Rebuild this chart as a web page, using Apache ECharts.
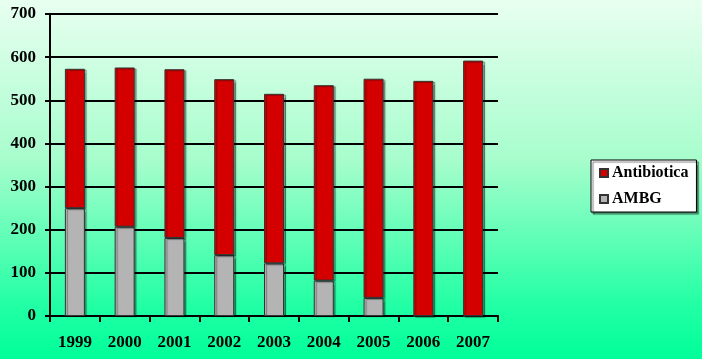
<!DOCTYPE html>
<html><head><meta charset="utf-8">
<script src="https://cdn.jsdelivr.net/npm/echarts@6/dist/echarts.min.js"></script>
<style>html,body{margin:0;padding:0;}#c{width:702px;height:359px;}</style>
</head><body><div id="c"></div>
<script>
const categories = ['1999','2000','2001','2002','2003','2004','2005','2006','2007'];
const ambg = [250, 207, 181, 141, 122, 82, 42, 0, 0];
const antibiotica = [323, 369, 391, 408, 393, 453, 508, 545, 592];
const yTicks = [0, 100, 200, 300, 400, 500, 600, 700];

const font = 'Liberation Serif, Times New Roman, serif';
const chart = echarts.init(document.getElementById('c'));
chart.setOption({
  animation: false,
  backgroundColor: {
    type: 'linear', x: 0, y: 0, x2: 0, y2: 1,
    colorStops: [
      {offset: 0, color: '#e8fff0'},
      {offset: 0.45, color: '#a6fdcc'},
      {offset: 0.85, color: '#22ffa4'},
      {offset: 1, color: '#00ff99'}
    ]
  },
  grid: {left: 50, right: 204, top: 14, bottom: 43},
  legend: {
    orient: 'vertical', left: 591, top: 160,
    data: ['Antibiotica', 'AMBG'],
    backgroundColor: '#ffffff', borderColor: '#000', borderWidth: 1,
    shadowColor: 'rgba(0,0,0,0.5)', shadowOffsetX: 2, shadowOffsetY: 2, shadowBlur: 1,
    padding: [5, 8, 5, 8], itemGap: 10, itemWidth: 8, itemHeight: 8,
    icon: 'rect',
    textStyle: {fontFamily: font, fontWeight: 'bold', fontSize: 16, color: '#000', padding: [0,0,0,-1]}
  },
  xAxis: {
    type: 'category', data: categories,
    axisLine: {lineStyle: {color: '#000', width: 2}},
    axisTick: {show: true, length: 6, lineStyle: {color: '#000', width: 2}},
    axisLabel: {fontFamily: font, fontWeight: 'bold', fontSize: 17, color: '#000', margin: 18}
  },
  yAxis: {
    type: 'value', min: yTicks[0], max: yTicks[yTicks.length-1], interval: 100,
    axisLine: {show: true, lineStyle: {color: '#000', width: 2}},
    axisTick: {show: true, length: 5, lineStyle: {color: '#000', width: 2}},
    splitLine: {lineStyle: {color: '#000', width: 2}},
    axisLabel: {fontFamily: font, fontWeight: 'bold', fontSize: 17, color: '#000', margin: 14}
  },
  series: [
    {name: 'AMBG', type: 'bar', stack: 't', data: ambg, barWidth: 20,
     itemStyle: {color: '#b4b4b4', borderColor: '#333', borderWidth: 1,
       shadowColor: 'rgba(0,0,0,0.35)', shadowOffsetX: 2, shadowOffsetY: 1, shadowBlur: 1}},
    {name: 'Antibiotica', type: 'bar', stack: 't', data: antibiotica, barWidth: 20,
     itemStyle: {color: '#d40000', borderColor: '#333', borderWidth: 1,
       shadowColor: 'rgba(0,0,0,0.35)', shadowOffsetX: 2, shadowOffsetY: 1, shadowBlur: 1}}
  ]
});
</script></body></html>
